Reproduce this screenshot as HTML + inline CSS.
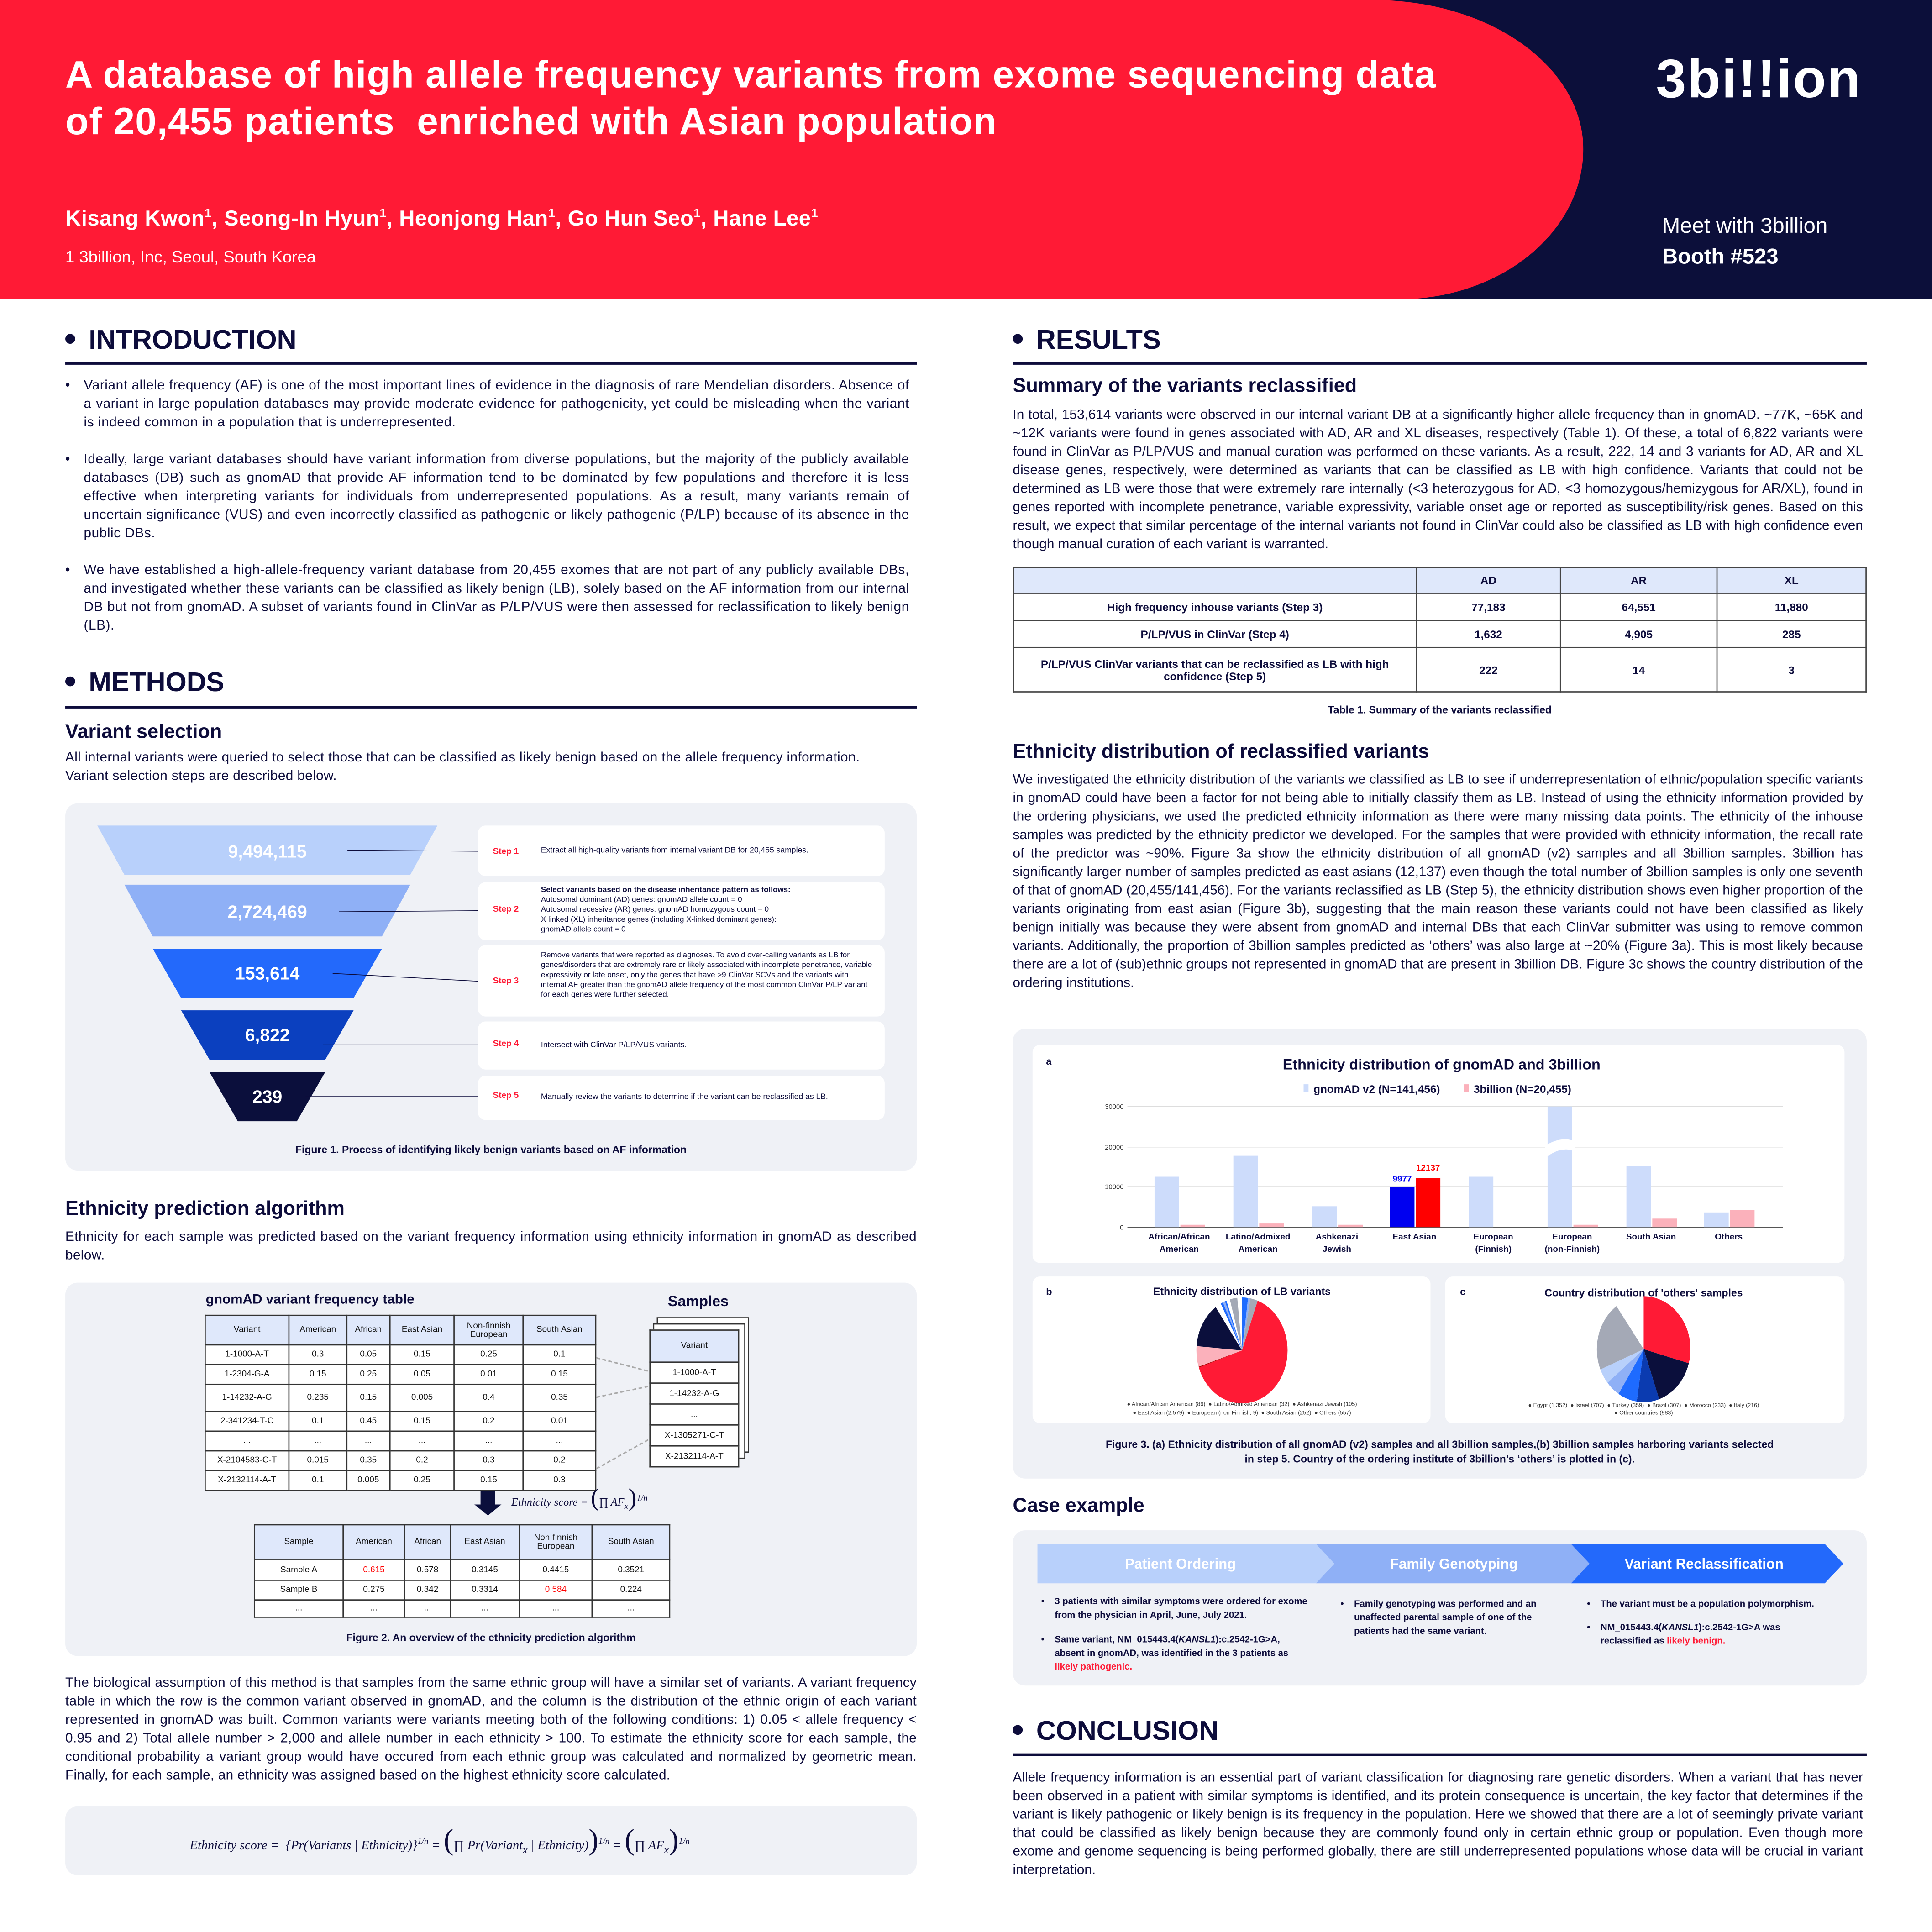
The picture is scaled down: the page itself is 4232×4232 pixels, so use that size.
<!DOCTYPE html>
<html><head><meta charset="utf-8"><style>
html,body{margin:0;padding:0;width:4232px;height:4232px;overflow:hidden;background:#fff}
#s{position:absolute;left:0;top:0;width:1568px;height:1568px;transform:scale(2.69898);transform-origin:0 0;font-family:"Liberation Sans",sans-serif;color:#0d0c3b}
.a{position:absolute}
.h1{font-size:22px;font-weight:bold;}
.dot{display:inline-block;width:8px;height:8px;border-radius:50%;background:#0d0c3b;margin-right:11px;vertical-align:middle;position:relative;top:-2px}
.rule{position:absolute;height:1.5px;background:#0d0c3b}
.h2{font-size:16px;font-weight:bold}
.p{font-size:11px;line-height:15px;text-align:justify}
.panel{position:absolute;background:#eff1f6;border-radius:10px}
.wb{position:absolute;background:#fff;border-radius:6px}
table{border-collapse:collapse}
.t1 td{border:0.6px solid #333;font-size:7px;text-align:center;padding:0;color:#111}
.t1 .hd td{background:#dfe8fb}
.cap{font-size:9px;font-weight:bold;text-align:center}
.rt td{border:0.6px solid #444;font-size:9px;font-weight:bold;text-align:center;padding:0}
.sm{font-size:8px;line-height:11px;font-weight:bold}
</style></head><body><div id="s">
<!-- header -->
<div class="a" style="left:0;top:0;width:1568px;height:243px;background:#0c0f3a"></div>
<div class="a" style="left:0;top:0;width:1285px;height:243px;background:#ff1a35;border-radius:0 170px 150px 0 / 0 121px 122px 0"></div>
<div class="a" style="left:53px;top:42px;color:#fff;font-size:31px;font-weight:bold;line-height:38px;width:1220px;letter-spacing:0.4px">A database of high allele frequency variants from exome sequencing data<br>of 20,455 patients&nbsp; enriched with Asian population</div>
<div class="a" style="left:53px;top:167px;color:#fff;font-size:17.5px;font-weight:bold;letter-spacing:0.2px">Kisang Kwon<sup style="font-size:10px">1</sup>, Seong-In Hyun<sup style="font-size:10px">1</sup>, Heonjong Han<sup style="font-size:10px">1</sup>, Go Hun Seo<sup style="font-size:10px">1</sup>, Hane Lee<sup style="font-size:10px">1</sup></div>
<div class="a" style="left:53px;top:201px;color:#fff;font-size:13.5px">1 3billion, Inc, Seoul, South Korea</div>
<div class="a" style="left:1344px;top:40px;color:#fff;font-size:44px;font-weight:bold;letter-spacing:1px">3bi<span>!!</span>ion</div>
<div class="a" style="left:1349px;top:173px;color:#fff;font-size:17.5px">Meet with 3billion</div>
<div class="a" style="left:1349px;top:198px;color:#fff;font-size:17.5px;font-weight:bold">Booth #523</div>

<!-- LEFT -->
<div class="a h1" style="left:53px;top:263px"><span class="dot"></span>INTRODUCTION</div>
<div class="rule" style="left:53px;top:294px;width:691px"></div>
<div class="a p" style="left:53px;top:306px;width:685px;letter-spacing:0.22px">
<div style="position:relative;padding-left:15px;margin-bottom:15px"><span style="position:absolute;left:0">•</span>Variant allele frequency (AF) is one of the most important lines of evidence in the diagnosis of rare Mendelian disorders. Absence of a variant in large population databases may provide moderate evidence for pathogenicity, yet could be misleading when the variant is indeed common in a population that is underrepresented.</div>
<div style="position:relative;padding-left:15px;margin-bottom:15px"><span style="position:absolute;left:0">•</span>Ideally, large variant databases should have variant information from diverse populations, but the majority of the publicly available databases (DB) such as gnomAD that provide AF information tend to be dominated by few populations and therefore it is less effective when interpreting variants for individuals from underrepresented populations. As a result, many variants remain of uncertain significance (VUS) and even incorrectly classified as pathogenic or likely pathogenic (P/LP) because of its absence in the public DBs.</div>
<div style="position:relative;padding-left:15px"><span style="position:absolute;left:0">•</span>We have established a high-allele-frequency variant database from 20,455 exomes that are not part of any publicly available DBs, and investigated whether these variants can be classified as likely benign (LB), solely based on the AF information from our internal DB but not from gnomAD. A subset of variants found in ClinVar as P/LP/VUS were then assessed for reclassification to likely benign (LB).</div>
</div>

<div class="a h1" style="left:53px;top:541px"><span class="dot"></span>METHODS</div>
<div class="rule" style="left:53px;top:573px;width:691px"></div>
<div class="a h2" style="left:53px;top:586px">Variant selection</div>
<div class="a p" style="left:53px;top:608px;width:691px;text-align:left;letter-spacing:0.15px">All internal variants were queried to select those that can be classified as likely benign based on the allele frequency information.<br>Variant selection steps are described below.</div>

<div class="panel" style="left:53px;top:652px;width:691px;height:298px"></div>
<svg class="a" style="left:0;top:0" width="760" height="960">
<polygon points="79,670 355,670 333,710 101,710" fill="#b8d0fb"/>
<polygon points="101,718 333,718 310,760 124,760" fill="#8fb0f6"/>
<polygon points="124,770 310,770 287,810 147,810" fill="#2369fb"/>
<polygon points="147,820 287,820 264,860 170,860" fill="#0b40bf"/>
<polygon points="170,870 264,870 241,910 193,910" fill="#0b0f3c"/>
<g stroke="#0d0c3b" stroke-width="0.6"><line x1="282" y1="690" x2="400" y2="691"/><line x1="275" y1="740" x2="400" y2="739"/><line x1="270" y1="790" x2="400" y2="797"/><line x1="262" y1="848" x2="400" y2="848"/><line x1="248" y1="890" x2="400" y2="890"/></g>
<g fill="#fff" font-size="14.5" font-weight="bold" text-anchor="middle" font-family="Liberation Sans"><text x="217" y="696">9,494,115</text><text x="217" y="745">2,724,469</text><text x="217" y="795">153,614</text><text x="217" y="845">6,822</text><text x="217" y="895">239</text></g>
</svg>
<div class="wb" style="left:388px;top:670px;width:330px;height:41px"></div>
<div class="wb" style="left:388px;top:716px;width:330px;height:47px"></div>
<div class="wb" style="left:388px;top:767px;width:330px;height:58px"></div>
<div class="wb" style="left:388px;top:829px;width:330px;height:39px"></div>
<div class="wb" style="left:388px;top:873px;width:330px;height:36px"></div>
<div class="a" style="left:400px;top:688px;font-size:7px;color:#ff1a35;font-weight:bold">Step 1</div>
<div class="a" style="left:400px;top:735px;font-size:7px;color:#ff1a35;font-weight:bold">Step 2</div>
<div class="a" style="left:400px;top:793px;font-size:7px;color:#ff1a35;font-weight:bold">Step 3</div>
<div class="a" style="left:400px;top:844px;font-size:7px;color:#ff1a35;font-weight:bold">Step 4</div>
<div class="a" style="left:400px;top:886px;font-size:7px;color:#ff1a35;font-weight:bold">Step 5</div>
<div class="a" style="left:439px;top:687px;font-size:6.5px">Extract all high-quality variants from internal variant DB for 20,455 samples.</div>
<div class="a" style="left:439px;top:719px;font-size:6.3px;line-height:8px;width:270px"><b>Select variants based on the disease inheritance pattern as follows:</b><br>Autosomal dominant (AD) genes: gnomAD allele count = 0<br>Autosomal recessive (AR) genes: gnomAD homozygous count = 0<br>X linked (XL) inheritance genes (including X-linked dominant genes):<br>gnomAD allele count = 0</div>
<div class="a" style="left:439px;top:772px;font-size:6.3px;line-height:8px;width:270px">Remove variants that were reported as diagnoses. To avoid over-calling variants as LB for genes/disorders that are extremely rare or likely associated with incomplete penetrance, variable expressivity or late onset, only the genes that have &gt;9 ClinVar SCVs and the variants with internal AF greater than the gnomAD allele frequency of the most common ClinVar P/LP variant for each genes were further selected.</div>
<div class="a" style="left:439px;top:845px;font-size:6.5px">Intersect with ClinVar P/LP/VUS variants.</div>
<div class="a" style="left:439px;top:887px;font-size:6.5px">Manually review the variants to determine if the variant can be reclassified as LB.</div>
<div class="a cap" style="left:53px;top:928px;width:691px;font-size:8.5px">Figure 1. Process of identifying likely benign variants based on AF information</div>

<div class="a h2" style="left:53px;top:973px">Ethnicity prediction algorithm</div>
<div class="a p" style="left:53px;top:997px;width:691px;letter-spacing:0.15px">Ethnicity for each sample was predicted based on the variant frequency information using ethnicity information in gnomAD as described below.</div>

<div class="panel" style="left:53px;top:1041px;width:691px;height:303px"></div>
<div class="a" style="left:167px;top:1049px;font-size:11px;font-weight:bold">gnomAD variant frequency table</div>
<div class="a" style="left:542px;top:1049px;font-size:12px;font-weight:bold">Samples</div>
<table class="a t1" style="left:166px;top:1067px;width:318px;background:#fff">
<tr class="hd" style="height:24px"><td style="width:67px">Variant</td><td>American</td><td>African</td><td>East Asian</td><td>Non-finnish<br>European</td><td>South Asian</td></tr>
<tr style="height:16px"><td>1-1000-A-T</td><td>0.3</td><td>0.05</td><td>0.15</td><td>0.25</td><td>0.1</td></tr>
<tr style="height:16px"><td>1-2304-G-A</td><td>0.15</td><td>0.25</td><td>0.05</td><td>0.01</td><td>0.15</td></tr>
<tr style="height:22px"><td>1-14232-A-G</td><td>0.235</td><td>0.15</td><td>0.005</td><td>0.4</td><td>0.35</td></tr>
<tr style="height:16px"><td>2-341234-T-C</td><td>0.1</td><td>0.45</td><td>0.15</td><td>0.2</td><td>0.01</td></tr>
<tr style="height:16px"><td>...</td><td>...</td><td>...</td><td>...</td><td>...</td><td>...</td></tr>
<tr style="height:16px"><td>X-2104583-C-T</td><td>0.015</td><td>0.35</td><td>0.2</td><td>0.3</td><td>0.2</td></tr>
<tr style="height:16px"><td>X-2132114-A-T</td><td>0.1</td><td>0.005</td><td>0.25</td><td>0.15</td><td>0.3</td></tr>
</table>
<div class="a" style="left:533px;top:1069px;width:73px;height:108px;border:0.6px solid #333;background:#fff"></div>
<div class="a" style="left:530px;top:1074px;width:73px;height:108px;border:0.6px solid #333;background:#fff"></div>
<table class="a t1" style="left:527px;top:1079px;width:73px;background:#fff">
<tr class="hd" style="height:26px"><td>Variant</td></tr>
<tr style="height:17px"><td>1-1000-A-T</td></tr><tr style="height:17px"><td>1-14232-A-G</td></tr><tr style="height:17px"><td>...</td></tr><tr style="height:17px"><td>X-1305271-C-T</td></tr><tr style="height:17px"><td>X-2132114-A-T</td></tr>
</table>
<svg class="a" style="left:0;top:0" width="760" height="1340"><g stroke="#aaa" stroke-width="1.2" stroke-dasharray="3,2"><line x1="484" y1="1102" x2="527" y2="1113"/><line x1="484" y1="1134" x2="527" y2="1125"/><line x1="484" y1="1192" x2="527" y2="1168"/></g>
<polygon points="390,1210 402,1210 402,1221 407,1221 396,1230 385,1221 390,1221" fill="#0b0f3c"/></svg>
<div class="a" style="left:415px;top:1203px;font-family:'Liberation Serif',serif;font-style:italic;font-size:9px;line-height:26px">Ethnicity score = <span style="font-size:20px;font-style:normal">(</span>∏ AF<sub>x</sub><span style="font-size:20px;font-style:normal">)</span><sup style="font-size:7px">1/n</sup></div>
<table class="a t1" style="left:206px;top:1237px;width:338px;background:#fff">
<tr class="hd" style="height:28px"><td style="width:71px">Sample</td><td>American</td><td>African</td><td>East Asian</td><td>Non-finnish<br>European</td><td>South Asian</td></tr>
<tr style="height:17px"><td>Sample A</td><td style="color:#f00">0.615</td><td>0.578</td><td>0.3145</td><td>0.4415</td><td>0.3521</td></tr>
<tr style="height:16px"><td>Sample B</td><td>0.275</td><td>0.342</td><td>0.3314</td><td style="color:#f00">0.584</td><td>0.224</td></tr>
<tr style="height:14px"><td>...</td><td>...</td><td>...</td><td>...</td><td>...</td><td>...</td></tr>
</table>
<div class="a cap" style="left:53px;top:1324px;width:691px;font-size:8.5px">Figure 2. An overview of the ethnicity prediction algorithm</div>

<div class="a p" style="left:53px;top:1359px;width:691px;letter-spacing:0.1px">The biological assumption of this method is that samples from the same ethnic group will have a similar set of variants. A variant frequency table in which the row is the common variant observed in gnomAD, and the column is the distribution of the ethnic origin of each variant represented in gnomAD was built. Common variants were variants meeting both of the following conditions: 1) 0.05 &lt; allele frequency &lt; 0.95 and 2) Total allele number &gt; 2,000 and allele number in each ethnicity &gt; 100. To estimate the ethnicity score for each sample, the conditional probability a variant group would have occured from each ethnic group was calculated and normalized by geometric mean. Finally, for each sample, an ethnicity was assigned based on the highest ethnicity score calculated.</div>
<div class="panel" style="left:53px;top:1466px;width:691px;height:56px"></div>
<div class="a" style="left:154px;top:1478px;font-family:'Liberation Serif',serif;font-style:italic;font-size:10.5px;line-height:32px;white-space:nowrap">Ethnicity score = &nbsp;{Pr(Variants | Ethnicity)}<sup style="font-size:7px">1/n</sup> = <span style="font-size:24px;font-style:normal">(</span>∏ Pr(Variant<sub>x</sub> | Ethnicity)<span style="font-size:24px;font-style:normal">)</span><sup style="font-size:7px">1/n</sup> = <span style="font-size:24px;font-style:normal">(</span>∏ AF<sub>x</sub><span style="font-size:24px;font-style:normal">)</span><sup style="font-size:7px">1/n</sup></div>

<!-- RIGHT -->
<div class="a h1" style="left:822px;top:263px"><span class="dot"></span>RESULTS</div>
<div class="rule" style="left:822px;top:294px;width:693px"></div>
<div class="a h2" style="left:822px;top:305px">Summary of the variants reclassified</div>
<div class="a p" style="left:822px;top:330px;width:690px">In total, 153,614 variants were observed in our internal variant DB at a significantly higher allele frequency than in gnomAD. ~77K, ~65K and ~12K variants were found in genes associated with AD, AR and XL diseases, respectively (Table 1). Of these, a total of 6,822 variants were found in ClinVar as P/LP/VUS and manual curation was performed on these variants. As a result, 222, 14 and 3 variants for AD, AR and XL disease genes, respectively, were determined as variants that can be classified as LB with high confidence. Variants that could not be determined as LB were those that were extremely rare internally (&lt;3 heterozygous for AD, &lt;3 homozygous/hemizygous for AR/XL), found in genes reported with incomplete penetrance, variable expressivity, variable onset age or reported as susceptibility/risk genes. Based on this result, we expect that similar percentage of the internal variants not found in ClinVar could also be classified as LB with high confidence even though manual curation of each variant is warranted.</div>
<table class="a rt" style="left:822px;top:460px;width:693px">
<tr style="height:21px;background:#dfe8fb"><td style="width:326px"></td><td style="width:116px">AD</td><td style="width:126px">AR</td><td>XL</td></tr>
<tr style="height:22px"><td>High frequency inhouse variants (Step 3)</td><td>77,183</td><td>64,551</td><td>11,880</td></tr>
<tr style="height:22px"><td>P/LP/VUS in ClinVar (Step 4)</td><td>1,632</td><td>4,905</td><td>285</td></tr>
<tr style="height:36px"><td>P/LP/VUS ClinVar variants that can be reclassified as LB with high<br>confidence (Step 5)</td><td>222</td><td>14</td><td>3</td></tr>
</table>
<div class="a cap" style="left:822px;top:571px;width:693px;font-size:8.5px">Table 1. Summary of the variants reclassified</div>

<div class="a h2" style="left:822px;top:602px">Ethnicity distribution of reclassified variants</div>
<div class="a p" style="left:822px;top:626px;width:690px">We investigated the ethnicity distribution of the variants we classified as LB to see if underrepresentation of ethnic/population specific variants in gnomAD could have been a factor for not being able to initially classify them as LB. Instead of using the ethnicity information provided by the ordering physicians, we used the predicted ethnicity information as there were many missing data points. The ethnicity of the inhouse samples was predicted by the ethnicity predictor we developed. For the samples that were provided with ethnicity information, the recall rate of the predictor was ~90%. Figure 3a show the ethnicity distribution of all gnomAD (v2) samples and all 3billion samples. 3billion has significantly larger number of samples predicted as east asians (12,137) even though the total number of 3billion samples is only one seventh of that of gnomAD (20,455/141,456). For the variants reclassified as LB (Step 5), the ethnicity distribution shows even higher proportion of the variants originating from east asian (Figure 3b), suggesting that the main reason these variants could not have been classified as likely benign initially was because they were absent from gnomAD and internal DBs that each ClinVar submitter was using to remove common variants. Additionally, the proportion of 3billion samples predicted as ‘others’ was also large at ~20% (Figure 3a). This is most likely because there are a lot of (sub)ethnic groups not represented in gnomAD that are present in 3billion DB. Figure 3c shows the country distribution of the ordering institutions.</div>

<div class="panel" style="left:822px;top:835px;width:693px;height:365px"></div>
<div class="wb" style="left:838px;top:848px;width:659px;height:177px"></div>
<div class="wb" style="left:838px;top:1036px;width:323px;height:119px"></div>
<div class="wb" style="left:1173px;top:1036px;width:324px;height:119px"></div>
<svg class="a" style="left:0;top:0" width="1568" height="1200" font-family="Liberation Sans">
<text x="849" y="864" font-size="8" font-weight="bold" fill="#0d0c3b">a</text>
<text x="1170" y="868" font-size="12" font-weight="bold" fill="#0d0c3b" text-anchor="middle">Ethnicity distribution of gnomAD and 3billion</text>
<rect x="1058" y="880" width="4" height="6" fill="#cddcfb"/><text x="1066" y="887" font-size="9" font-weight="bold" fill="#0d0c3b">gnomAD v2 (N=141,456)</text>
<rect x="1188" y="880" width="4" height="6" fill="#fbb1bb"/><text x="1196" y="887" font-size="9" font-weight="bold" fill="#0d0c3b">3billion (N=20,455)</text>
<g stroke="#ddd" stroke-width="0.6"><line x1="915" y1="898" x2="1447" y2="898"/><line x1="915" y1="931" x2="1447" y2="931"/><line x1="915" y1="963" x2="1447" y2="963"/></g>
<line x1="915" y1="996" x2="1447" y2="996" stroke="#555" stroke-width="0.8"/>
<g font-size="5.5" fill="#333" text-anchor="end"><text x="912" y="900">30000</text><text x="912" y="933">20000</text><text x="912" y="965">10000</text><text x="912" y="998">0</text></g>
<g fill="#cddcfb"><rect x="937" y="955" width="20" height="41"/><rect x="1001" y="938" width="20" height="58"/><rect x="1065" y="979" width="20" height="17"/><rect x="1192" y="955" width="20" height="41"/><rect x="1256" y="898" width="20" height="98"/><rect x="1320" y="946" width="20" height="50"/><rect x="1383" y="984" width="20" height="12"/></g>
<path d="M1254,930 Q1266,922 1278,926 L1278,934 Q1266,930 1254,940Z" fill="#fff"/>
<g fill="#fbb1bb"><rect x="958" y="994" width="20" height="2"/><rect x="1022" y="993" width="20" height="3"/><rect x="1086" y="994" width="20" height="2"/><rect x="1277" y="994" width="20" height="2"/><rect x="1341" y="989" width="20" height="7"/><rect x="1404" y="982" width="20" height="14"/></g>
<rect x="1128" y="963" width="20" height="33" fill="#0000f0"/><rect x="1149" y="956" width="20" height="40" fill="#f00"/>
<text x="1138" y="959" font-size="7" font-weight="bold" fill="#0000f0" text-anchor="middle">9977</text>
<text x="1159" y="950" font-size="7" font-weight="bold" fill="#f00" text-anchor="middle">12137</text>
<g font-size="7" fill="#0d0c3b" text-anchor="middle" font-weight="bold"><text x="957" y="1006">African/African</text><text x="957" y="1016">American</text><text x="1021" y="1006">Latino/Admixed</text><text x="1021" y="1016">American</text><text x="1085" y="1006">Ashkenazi</text><text x="1085" y="1016">Jewish</text><text x="1148" y="1006">East Asian</text><text x="1212" y="1006">European</text><text x="1212" y="1016">(Finnish)</text><text x="1276" y="1006">European</text><text x="1276" y="1016">(non-Finnish)</text><text x="1340" y="1006">South Asian</text><text x="1403" y="1006">Others</text></g>
<text x="849" y="1051" font-size="8" font-weight="bold" fill="#0d0c3b">b</text>
<text x="1008" y="1051" font-size="8.5" font-weight="bold" fill="#0d0c3b" text-anchor="middle">Ethnicity distribution of LB variants</text>
<text x="1185" y="1051" font-size="8" font-weight="bold" fill="#0d0c3b">c</text>
<text x="1334" y="1052" font-size="8.5" font-weight="bold" fill="#0d0c3b" text-anchor="middle">Country distribution of 'others' samples</text>
<g transform="translate(1008,1096) scale(37,43) rotate(-90)" fill="none" stroke-width="1">
<circle r="0.5" pathLength="100" stroke="#1e6bff" stroke-dasharray="2.4 100" stroke-dashoffset="0"/>
<circle r="0.5" pathLength="100" stroke="#8fb0f6" stroke-dasharray="0.9 100" stroke-dashoffset="-2.4"/>
<circle r="0.5" pathLength="100" stroke="#a4a9b6" stroke-dasharray="2.9 100" stroke-dashoffset="-3.3"/>
<circle r="0.5" pathLength="100" stroke="#ff1a35" stroke-dasharray="71.2 100" stroke-dashoffset="-6.2"/>
<circle r="0.5" pathLength="100" stroke="#a00" stroke-dasharray="0.3 100" stroke-dashoffset="-77.4"/>
<circle r="0.5" pathLength="100" stroke="#fbb1bb" stroke-dasharray="7 100" stroke-dashoffset="-77.7"/>
<circle r="0.5" pathLength="100" stroke="#0b0f3c" stroke-dasharray="15.4 100" stroke-dashoffset="-84.7"/>
</g>
<g transform="translate(1334,1095) scale(38,43) rotate(-90)" fill="none" stroke-width="1">
<circle r="0.5" pathLength="100" stroke="#ff1a35" stroke-dasharray="32.5 100" stroke-dashoffset="0"/>
<circle r="0.5" pathLength="100" stroke="#0b0f3c" stroke-dasharray="17 100" stroke-dashoffset="-32.5"/>
<circle r="0.5" pathLength="100" stroke="#0b3bb0" stroke-dasharray="8.6 100" stroke-dashoffset="-49.5"/>
<circle r="0.5" pathLength="100" stroke="#1e6bff" stroke-dasharray="7.4 100" stroke-dashoffset="-58.1"/>
<circle r="0.5" pathLength="100" stroke="#8fb0f6" stroke-dasharray="5.6 100" stroke-dashoffset="-65.5"/>
<circle r="0.5" pathLength="100" stroke="#b8d0fb" stroke-dasharray="5.2 100" stroke-dashoffset="-71.1"/>
<circle r="0.5" pathLength="100" stroke="#a4a9b6" stroke-dasharray="23.7 100" stroke-dashoffset="-76.3"/>
</g>
<g font-size="4.6" fill="#333" text-anchor="middle"><text x="1008" y="1141">● African/African American (86) &#160;● Latino/Admixed American (32) &#160;● Ashkenazi Jewish (105)</text><text x="1008" y="1148">● East Asian (2,579) &#160;● European (non-Finnish, 9) &#160;● South Asian (252) &#160;● Others (557)</text>
<text x="1334" y="1142">● Egypt (1,352) &#160;● Israel (707) &#160;● Turkey (359) &#160;● Brazil (307) &#160;● Morocco (233) &#160;● Italy (216)</text><text x="1334" y="1148">● Other countries (983)</text></g>
</svg>
<div class="a cap" style="left:822px;top:1166px;width:693px;font-size:8.5px;line-height:12px">Figure 3. (a) Ethnicity distribution of all gnomAD (v2) samples and all 3billion samples,(b) 3billion samples harboring variants selected<br>in step 5. Country of the ordering institute of 3billion’s ‘others’ is plotted in (c).</div>

<div class="a h2" style="left:822px;top:1214px">Case example</div>
<div class="panel" style="left:822px;top:1242px;width:693px;height:126px"></div>
<svg class="a" style="left:0;top:0" width="1568" height="1300" font-family="Liberation Sans">
<polygon points="842,1253 1068,1253 1083,1269 1068,1285 842,1285" fill="#b8d0fb"/>
<polygon points="1068,1253 1275,1253 1290,1269 1275,1285 1068,1285 1083,1269" fill="#8fb0f6"/>
<polygon points="1275,1253 1481,1253 1496,1269 1481,1285 1275,1285 1290,1269" fill="#2369fb"/>
<g fill="#fff" font-size="11.5" font-weight="bold" text-anchor="middle"><text x="958" y="1273">Patient Ordering</text><text x="1180" y="1273">Family Genotyping</text><text x="1383" y="1273">Variant Reclassification</text></g>
</svg>
<div class="a sm" style="left:845px;top:1294px;width:220px;font-size:7.5px"><div style="padding-left:11px;position:relative"><span style="position:absolute;left:0">•</span>3 patients with similar symptoms were ordered for exome from the physician in April, June, July 2021.</div><div style="padding-left:11px;position:relative;margin-top:9px"><span style="position:absolute;left:0">•</span>Same variant, NM_015443.4(<i>KANSL1</i>):c.2542-1G&gt;A, absent in gnomAD, was identified in the 3 patients as <span style="color:#ff1a35">likely pathogenic.</span></div></div>
<div class="a sm" style="left:1088px;top:1296px;width:180px;font-size:7.5px"><div style="padding-left:11px;position:relative"><span style="position:absolute;left:0">•</span>Family genotyping was performed and an unaffected parental sample of one of the patients had the same variant.</div></div>
<div class="a sm" style="left:1288px;top:1296px;width:190px;font-size:7.5px"><div style="padding-left:11px;position:relative"><span style="position:absolute;left:0">•</span>The variant must be a population polymorphism.</div><div style="padding-left:11px;position:relative;margin-top:8px"><span style="position:absolute;left:0">•</span>NM_015443.4(<i>KANSL1</i>):c.2542-1G&gt;A was reclassified as <span style="color:#ff1a35">likely benign.</span></div></div>

<div class="a h1" style="left:822px;top:1392px"><span class="dot"></span>CONCLUSION</div>
<div class="rule" style="left:822px;top:1423px;width:693px"></div>
<div class="a p" style="left:822px;top:1436px;width:690px">Allele frequency information is an essential part of variant classification for diagnosing rare genetic disorders. When a variant that has never been observed in a patient with similar symptoms is identified, and its protein consequence is uncertain, the key factor that determines if the variant is likely pathogenic or likely benign is its frequency in the population. Here we showed that there are a lot of seemingly private variant that could be classified as likely benign because they are commonly found only in certain ethnic group or population. Even though more exome and genome sequencing is being performed globally, there are still underrepresented populations whose data will be crucial in variant interpretation.</div>
</div></body></html>
